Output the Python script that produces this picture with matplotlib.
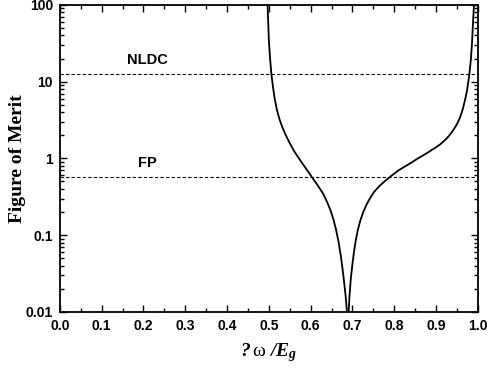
import numpy as np
import matplotlib
matplotlib.use('Agg')
import matplotlib.pyplot as plt
from matplotlib.ticker import FixedLocator, LogLocator, FuncFormatter, NullFormatter

# left branch of the figure of merit curve
x_left = [0.497, 0.4985, 0.500, 0.503, 0.506, 0.510, 0.514, 0.519, 0.525,
          0.532, 0.540, 0.549, 0.560, 0.572, 0.586, 0.602, 0.618, 0.630,
          0.640, 0.648, 0.655, 0.661, 0.667, 0.672, 0.676, 0.680, 0.684,
          0.687, 0.6893]
y_left = [100, 60, 35, 20, 12.7, 8.5, 6.0, 4.37, 3.31,
          2.57, 2.04, 1.62, 1.26, 1.0, 0.776, 0.582, 0.437, 0.347,
          0.266, 0.207, 0.158, 0.117, 0.081, 0.055, 0.038, 0.025, 0.0158,
          0.010, 0.005]

# right branch
x_right = [0.6903, 0.691, 0.693, 0.696, 0.700, 0.704, 0.708, 0.713, 0.719,
           0.726, 0.734, 0.743, 0.753, 0.765, 0.778, 0.790, 0.812,
           0.837, 0.857, 0.877, 0.897, 0.910, 0.920, 0.930, 0.938, 0.945,
           0.951, 0.957, 0.962, 0.966, 0.970, 0.974, 0.977, 0.980, 0.983,
           0.986, 0.988, 0.991]
y_right = [0.005, 0.010, 0.0158, 0.0263, 0.0417, 0.0617, 0.0851, 0.117, 0.155,
           0.20, 0.251, 0.309, 0.372, 0.437, 0.507, 0.575, 0.708,
           0.853, 1.0, 1.16, 1.36, 1.52, 1.70, 1.93, 2.2, 2.5,
           2.85, 3.35, 4.0, 4.8, 5.9, 7.5, 9.6, 12.7, 18,
           30, 50, 100]

# reference levels
nldc_level = 12.7
fp_level = 0.58

x_ticks = [0.0, 0.1, 0.2, 0.3, 0.4, 0.5, 0.6, 0.7, 0.8, 0.9, 1.0]
y_ticks = [0.01, 0.1, 1, 10, 100]

plt.rcParams['mathtext.fontset'] = 'custom'
plt.rcParams['mathtext.it'] = 'Liberation Serif:italic:bold'
plt.rcParams['mathtext.rm'] = 'Liberation Serif:italic:bold'
plt.rcParams['mathtext.sf'] = 'Liberation Serif'
plt.rcParams['mathtext.bf'] = 'Liberation Serif:bold'

fig = plt.figure(figsize=(4.87, 3.74), dpi=100)
ax = fig.add_axes([0.123, 0.166, 0.858, 0.821])

# curve
ax.plot(x_left, y_left, color='black', lw=1.3)
ax.plot(x_right, y_right, color='black', lw=1.3)

# dashed reference lines
ax.axhline(nldc_level, color='black', lw=0.8, linestyle=(0, (3, 2)))
ax.axhline(fp_level, color='black', lw=0.8, linestyle=(0, (3, 2)))
ax.text(0.209, 18.9, 'NLDC', ha='center', va='center', fontsize=10.5,
        fontweight='bold', family='Liberation Sans')
ax.text(0.209, 0.86, 'FP', ha='center', va='center', fontsize=10.5,
        fontweight='bold', family='Liberation Sans')

ax.set_yscale('log')
ax.set_xlim(0, 1.0)
ax.set_ylim(0.01, 100)

ax.xaxis.set_major_locator(FixedLocator(x_ticks))
ax.xaxis.set_minor_locator(FixedLocator(np.arange(0.05, 1.0, 0.1)))
ax.xaxis.set_major_formatter(FuncFormatter(lambda v, p: '%.1f' % v))
ax.yaxis.set_major_locator(FixedLocator(y_ticks))
ax.yaxis.set_minor_locator(LogLocator(base=10, subs=np.arange(2, 10)))
ax.yaxis.set_major_formatter(FuncFormatter(lambda v, p: '%g' % v))
ax.yaxis.set_minor_formatter(NullFormatter())

ax.tick_params(which='both', direction='in', top=True, right=True, width=1.0)
ax.tick_params(which='major', length=5, labelsize=10, pad=5)
ax.tick_params(which='minor', length=3)
for lab in ax.get_xticklabels() + ax.get_yticklabels():
    lab.set_fontweight('bold')
    lab.set_family('Liberation Sans')

for sp in ax.spines.values():
    sp.set_linewidth(1.3)

ax.set_ylabel('Figure of Merit', family='Liberation Serif', fontweight='bold',
              fontsize=14, labelpad=0)
ax.set_xlabel(r'$?\,\mathsf{\omega}\ /E_g$', fontsize=14, labelpad=6)

plt.savefig('out.png', dpi=100)
